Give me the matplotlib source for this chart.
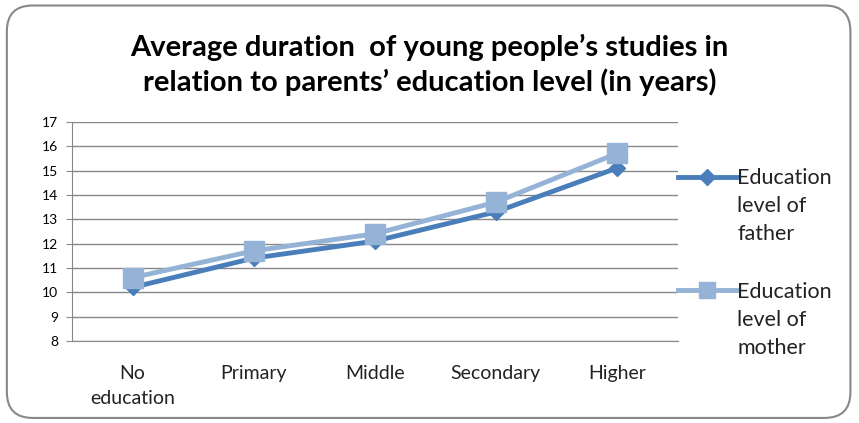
import matplotlib.pyplot as plt
from matplotlib.lines import Line2D
from matplotlib.patches import FancyBboxPatch

plt.rcParams['font.family'] = ['Lato', 'DejaVu Sans']

categories = ['No\neducation', 'Primary', 'Middle', 'Secondary', 'Higher']
father = [10.2, 11.4, 12.1, 13.3, 15.1]
mother = [10.6, 11.7, 12.4, 13.7, 15.7]
y_ticks = list(range(8, 18))

father_color = '#4A7EBB'
mother_color = '#95B3D7'

fig = plt.figure(figsize=(8.59, 4.23), dpi=100)

# rounded chart border
border = FancyBboxPatch((0.008, 0.012), 0.982, 0.975, boxstyle='round,pad=0,rounding_size=0.03',
                        transform=fig.transFigure, facecolor='white', edgecolor='#888888',
                        linewidth=1.5, mutation_aspect=859 / 423, zorder=-1)
fig.patches.append(border)

ax = fig.add_axes([0.0838, 0.194, 0.705, 0.518])
ax.patch.set_alpha(0)
x = range(len(categories))
ax.plot(x, mother, color=mother_color, linewidth=3.5, marker='s', markersize=15, zorder=3)
ax.plot(x, father, color=father_color, linewidth=3.5, marker='D', markersize=8, zorder=2)

ax.set_xlim(-0.5, 4.5)
ax.set_ylim(8, 17)
ax.set_yticks(y_ticks)
ax.set_xticks(list(x))
ax.set_xticklabels(categories, fontsize=14, color='#222222', linespacing=1.6)
ax.tick_params(axis='x', length=0, pad=17)
ax.tick_params(axis='y', length=4, color='#888888', labelsize=10, pad=6)
ax.grid(axis='y', color='#888888', linewidth=1)
ax.set_axisbelow(True)
for side in ['top', 'right']:
    ax.spines[side].set_visible(False)
for side in ['left', 'bottom']:
    ax.spines[side].set_color('#888888')

fig.text(0.5, 0.847, 'Average duration  of young people\u2019s studies in\nrelation to parents\u2019 education level (in years)',
         ha='center', va='center', fontsize=21, fontweight='bold', linespacing=1.3)

# legend
entries = [('Education\nlevel of\nfather', father_color, 'D', 8, 0.582),
           ('Education\nlevel of\nmother', mother_color, 's', 12, 0.314)]
for label, color, marker, ms, yy in entries:
    fig.add_artist(Line2D([0.789, 0.858], [yy, yy], color=color, linewidth=3.5))
    fig.add_artist(Line2D([0.8235], [yy], color=color, marker=marker, markersize=ms))
    fig.text(0.858, yy + 0.02, label, ha='left', va='top', fontsize=15.5, color='#222222', linespacing=1.5)

fig.savefig('out.png', dpi=100)
